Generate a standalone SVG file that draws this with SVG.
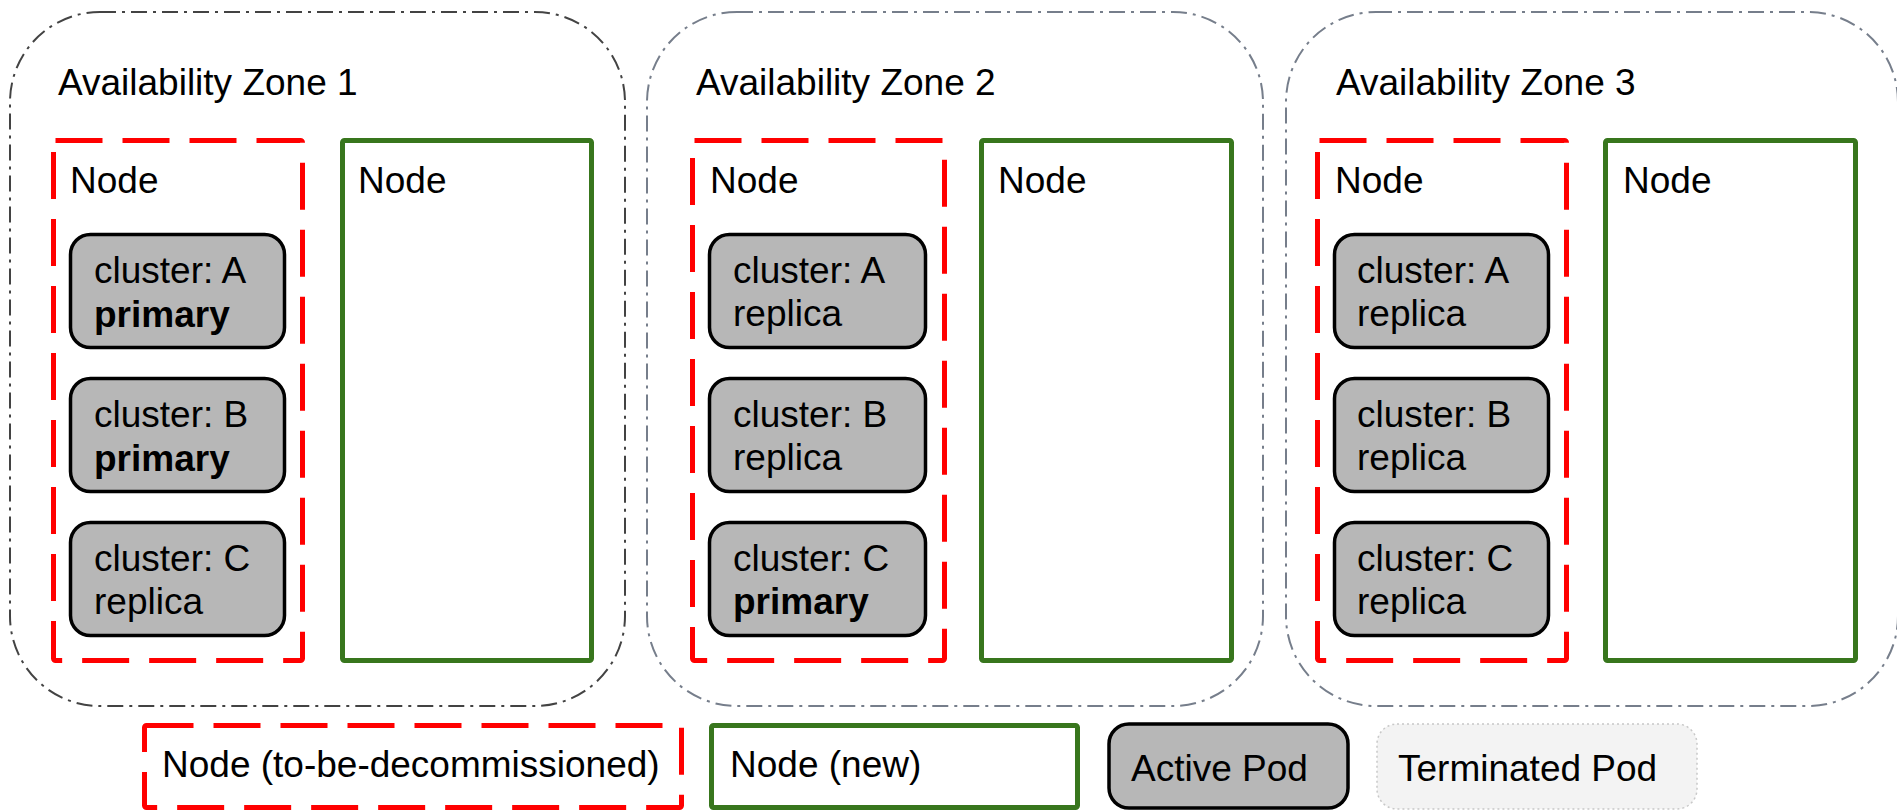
<svg xmlns="http://www.w3.org/2000/svg" width="1897" height="812" viewBox="0 0 1897 812">
<style>
.z1{fill:none;stroke:#434343;stroke-width:2;stroke-dasharray:16 6 3 6}
.z{fill:none;stroke:#767e8b;stroke-width:2;stroke-dasharray:16 6 3 6}
.old{fill:none;stroke:#ff0000;stroke-width:5;stroke-dasharray:47 20}
.new{fill:none;stroke:#38761d;stroke-width:5}
.pod{fill:#b7b7b7;stroke:#000;stroke-width:3.5}
.term{fill:#f3f3f3;stroke:#c8c8c8;stroke-width:1.5;stroke-dasharray:2 3}
text{font-family:"Liberation Sans",Arial,sans-serif;font-size:37px;fill:#000}
.b{font-weight:bold}
</style>
<rect width="1897" height="812" fill="#fff"/>
<g id="zone1">
<rect class="z1" x="10" y="12" width="615" height="694" rx="90"/>
<text x="58" y="95">Availability Zone 1</text>
</g>
<g id="zone2">
<rect class="z" x="647" y="12" width="616" height="694" rx="90"/>
<text x="696" y="95">Availability Zone 2</text>
</g>
<g id="zone3">
<rect class="z" x="1286" y="12" width="612" height="694" rx="90"/>
<text x="1336" y="95">Availability Zone 3</text>
</g>
<g id="node1-old"><rect class="old" x="53.5" y="140.5" width="249" height="520" rx="2"/><text x="70" y="193">Node</text></g>
<g id="node1-new"><rect class="new" x="342.5" y="140.5" width="249" height="520" rx="2"/><text x="358" y="193">Node</text></g>
<g id="node2-old"><rect class="old" x="692.5" y="140.5" width="252" height="520" rx="2"/><text x="710" y="193">Node</text></g>
<g id="node2-new"><rect class="new" x="981.5" y="140.5" width="250" height="520" rx="2"/><text x="998" y="193">Node</text></g>
<g id="node3-old"><rect class="old" x="1317.5" y="140.5" width="249" height="520" rx="2"/><text x="1335" y="193">Node</text></g>
<g id="node3-new"><rect class="new" x="1605.5" y="140.5" width="250" height="520" rx="2"/><text x="1623" y="193">Node</text></g>

<g id="pod1a"><rect class="pod" x="70.5" y="234.5" width="214" height="113" rx="20"/><text x="94" y="283">cluster: A</text><text class="b" x="94" y="327">primary</text></g>
<g id="pod1b"><rect class="pod" x="70.5" y="378.5" width="214" height="113" rx="20"/><text x="94" y="427">cluster: B</text><text class="b" x="94" y="471">primary</text></g>
<g id="pod1c"><rect class="pod" x="70.5" y="522.5" width="214" height="113" rx="20"/><text x="94" y="571">cluster: C</text><text x="94" y="614">replica</text></g>

<g id="pod2a"><rect class="pod" x="709.5" y="234.5" width="216" height="113" rx="20"/><text x="733" y="283">cluster: A</text><text x="733" y="326">replica</text></g>
<g id="pod2b"><rect class="pod" x="709.5" y="378.5" width="216" height="113" rx="20"/><text x="733" y="427">cluster: B</text><text x="733" y="470">replica</text></g>
<g id="pod2c"><rect class="pod" x="709.5" y="522.5" width="216" height="113" rx="20"/><text x="733" y="571">cluster: C</text><text class="b" x="733" y="614">primary</text></g>

<g id="pod3a"><rect class="pod" x="1334.5" y="234.5" width="214" height="113" rx="20"/><text x="1357" y="283">cluster: A</text><text x="1357" y="326">replica</text></g>
<g id="pod3b"><rect class="pod" x="1334.5" y="378.5" width="214" height="113" rx="20"/><text x="1357" y="427">cluster: B</text><text x="1357" y="470">replica</text></g>
<g id="pod3c"><rect class="pod" x="1334.5" y="522.5" width="214" height="113" rx="20"/><text x="1357" y="571">cluster: C</text><text x="1357" y="614">replica</text></g>

<g id="legend-old"><rect class="old" x="144.5" y="725.5" width="537" height="82" rx="2"/><text x="162" y="777">Node (to-be-decommissioned)</text></g>
<g id="legend-new"><rect class="new" x="711.5" y="725.5" width="366" height="82" rx="2"/><text x="730" y="777">Node (new)</text></g>
<g id="legend-active"><rect class="pod" x="1109" y="724" width="239" height="84" rx="20"/><text x="1131" y="781">Active Pod</text></g>
<g id="legend-terminated"><rect class="term" x="1377" y="724" width="320" height="85" rx="20"/><text x="1398" y="781">Terminated Pod</text></g>
<g id="connectors"/>
</svg>
